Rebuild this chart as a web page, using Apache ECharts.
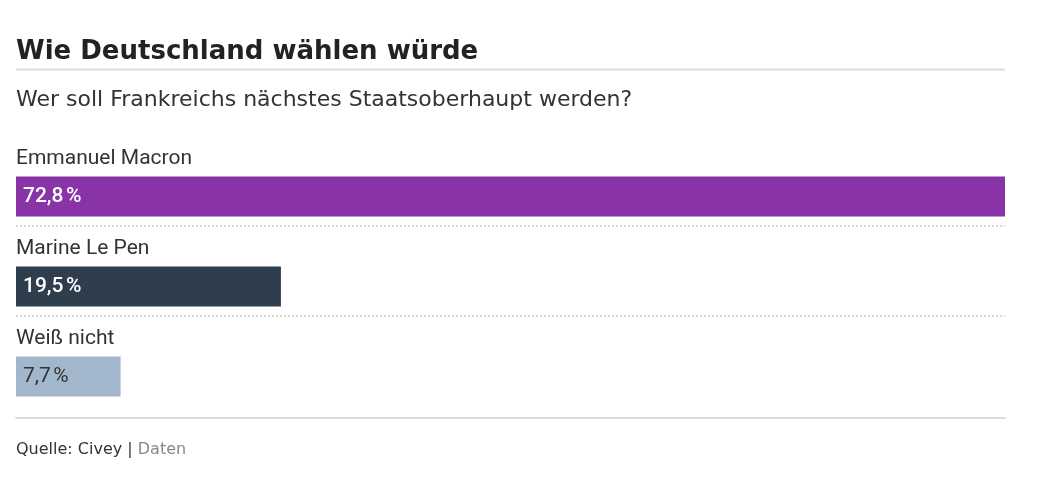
<!DOCTYPE html>
<html><head><meta charset="utf-8">
<script src="https://cdn.jsdelivr.net/npm/echarts@6/dist/echarts.min.js"></script>
<style>html,body{margin:0;padding:0;background:#fff}#c{width:1039px;height:477px}</style>
</head><body><div id="c"></div>
<script>
const categories = ['Emmanuel Macron', 'Marine Le Pen', 'Weiß nicht'];
const values = [72.8, 19.5, 7.7];
const colors = ['#8833a6', '#2f3e4d', '#a3b7cc'];
const labelColors = ['#ffffff', '#ffffff', '#333333'];
const FONT = '"DejaVu Sans", sans-serif';
const FONT2 = 'Roboto, sans-serif';

const chart = echarts.init(document.getElementById('c'), null, {renderer: 'canvas'});
const fmt = v => v.toFixed(1).replace('.', ',') + '\u202F%';
const NONE = 'rgba(0,0,0,0)', DOT = '#d6d6d6';
chart.setOption({
  animation: false,
  title: [
    {text: 'Wie Deutschland wählen würde', left: 16, top: 39, padding: 0,
     textStyle: {fontFamily: FONT, fontSize: 26, fontWeight: 'bold', color: '#222'}},
    {text: 'Wer soll Frankreichs nächstes Staatsoberhaupt werden?', left: 16, top: 89, padding: 0,
     textStyle: {fontFamily: FONT, fontSize: 22, fontWeight: 'normal', color: '#333'}},
    {text: 'Quelle: Civey | {g|Daten}', left: 16, top: 442, padding: 0,
     textStyle: {fontFamily: FONT, fontSize: 16, fontWeight: 'normal', color: '#333',
       rich: {g: {fontFamily: FONT, fontSize: 16, color: '#888'}}}}
  ],
  graphic: [
    {type: 'line', shape: {x1: 16, y1: 69.5, x2: 1005, y2: 69.5}, style: {stroke: '#dddddd', lineWidth: 2}}
  ],
  grid: {left: 16, right: 34, top: 136, height: 270},
  xAxis: {type: 'value', min: 0, max: 72.8, offset: 12,
    axisLine: {show: true, lineStyle: {color: '#dddddd', width: 2}},
    axisTick: {show: false}, axisLabel: {show: false}, splitLine: {show: false}},
  yAxis: {type: 'category', data: categories, inverse: true,
    axisLine: {show: false}, axisTick: {show: false}, axisLabel: {show: false},
    splitLine: {show: true, interval: 0,
      lineStyle: {color: [NONE, DOT, DOT, NONE], width: 2, type: [2, 2]}}},
  series: [
    {type: 'bar', barWidth: 31, barGap: '0%', silent: true,
     data: values.map(v => ({value: v, itemStyle: {color: NONE}})),
     label: {show: true, position: 'insideLeft', offset: [-5, -2], formatter: '{b}',
       fontFamily: FONT2, fontSize: 21, color: '#333'}},
    {type: 'bar', barWidth: 40, barGap: '0%',
     data: values.map((v, i) => ({value: v, itemStyle: {color: colors[i]},
       label: {color: labelColors[i], fontWeight: i < 2 ? 500 : 'normal'}})),
     label: {show: true, position: 'insideLeft', offset: [2, 0], formatter: p => fmt(p.value),
       fontFamily: FONT2, fontSize: 21}}
  ]
});
</script></body></html>
